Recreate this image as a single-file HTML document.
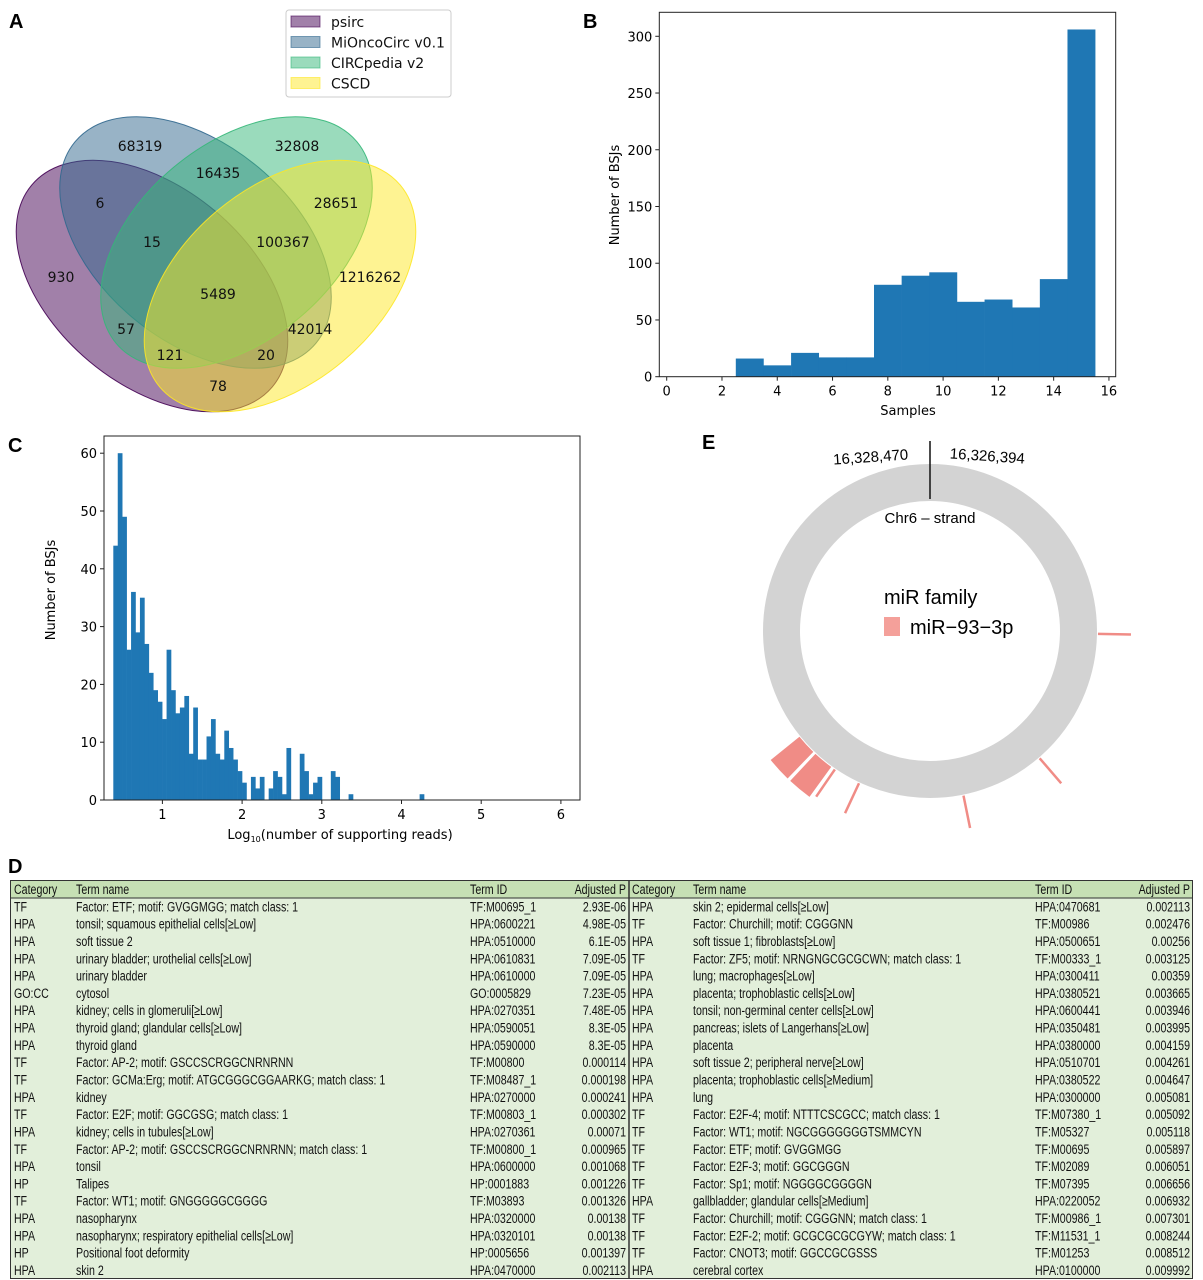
<!DOCTYPE html>
<html><head><meta charset="utf-8"><style>
body{margin:0;background:#fff}
svg{display:block;font-family:"DejaVu Sans","Liberation Sans",sans-serif}
.t{font-family:"Liberation Sans",sans-serif}
</style></head><body>
<svg id="fig" width="1203" height="1280" viewBox="0 0 1203 1280">
<g class="t" font-weight="bold" font-size="20">
<text x="9" y="28">A</text>
<text x="583" y="28">B</text>
<text x="8" y="452">C</text>
<text x="8" y="873">D</text>
<text x="702" y="449">E</text>
</g>
<g id="venn"></g>
<g id="pb"></g>
<g id="pc"></g>
<g id="pe"></g>
<g id="pd"></g>
</svg>
<script>
const NS="http://www.w3.org/2000/svg";
function mk(tag,attrs,parent,txt){const e=document.createElementNS(NS,tag);for(const k in attrs)e.setAttribute(k,attrs[k]);if(txt!==undefined)e.textContent=txt;parent.appendChild(e);return e;}

// ---------- Panel A data ----------
const vennSets=["psirc","MiOncoCirc v0.1","CIRCpedia v2","CSCD"];
const vennColors=["#440154","#31688e","#35b779","#fde725"];
const vennCounts=[68319,32808,16435,6,28651,15,100367,930,1216262,5489,57,42014,121,20,78];
// ---------- Panel B data ----------
const bSamples=[0,1,2,3,4,5,6,7,8,9,10,11,12,13,14,15];
const bCounts=[0,0,0,16,10,21,17,17,81,89,92,66,68,61,86,306];
const bYTicks=[0,50,100,150,200,250,300];
const bXTicks=[0,2,4,6,8,10,12,14,16];
// ---------- Panel C data ----------
const cBinStart=0.384, cBinWidth=0.0557;
const cCounts=[44,60,49,26,36,29,35,27,22,19,17,14,26,19,15,16,18,8,16,7,7,11,14,8,7,12,9,7,5,3,0,4,2,4,0,2,5,4,1,9,0,0,8,5,1,3,4,0,0,5,4,0,0,1,0,0,0,0,0,0,0,0,0,0,0,0,0,0,0,1];
const cYTicks=[0,10,20,30,40,50,60];
const cXTicks=[1,2,3,4,5,6];
// ---------- Panel E data ----------
const eSiteStart=[0.5,48.5,78,114.5,124,126,134];
const eSiteEnd=[1.5,50,79,115.5,125,133,141];
// ---------- Panel D data ----------
const leftRows=[
["TF","Factor: ETF; motif: GVGGMGG; match class: 1","TF:M00695_1","2.93E-06"],
["HPA","tonsil; squamous epithelial cells[≥Low]","HPA:0600221","4.98E-05"],
["HPA","soft tissue 2","HPA:0510000","6.1E-05"],
["HPA","urinary bladder; urothelial cells[≥Low]","HPA:0610831","7.09E-05"],
["HPA","urinary bladder","HPA:0610000","7.09E-05"],
["GO:CC","cytosol","GO:0005829","7.23E-05"],
["HPA","kidney; cells in glomeruli[≥Low]","HPA:0270351","7.48E-05"],
["HPA","thyroid gland; glandular cells[≥Low]","HPA:0590051","8.3E-05"],
["HPA","thyroid gland","HPA:0590000","8.3E-05"],
["TF","Factor: AP-2; motif: GSCCSCRGGCNRNRNN","TF:M00800","0.000114"],
["TF","Factor: GCMa:Erg; motif: ATGCGGGCGGAARKG; match class: 1","TF:M08487_1","0.000198"],
["HPA","kidney","HPA:0270000","0.000241"],
["TF","Factor: E2F; motif: GGCGSG; match class: 1","TF:M00803_1","0.000302"],
["HPA","kidney; cells in tubules[≥Low]","HPA:0270361","0.00071"],
["TF","Factor: AP-2; motif: GSCCSCRGGCNRNRNN; match class: 1","TF:M00800_1","0.000965"],
["HPA","tonsil","HPA:0600000","0.001068"],
["HP","Talipes","HP:0001883","0.001226"],
["TF","Factor: WT1; motif: GNGGGGGCGGGG","TF:M03893","0.001326"],
["HPA","nasopharynx","HPA:0320000","0.00138"],
["HPA","nasopharynx; respiratory epithelial cells[≥Low]","HPA:0320101","0.00138"],
["HP","Positional foot deformity","HP:0005656","0.001397"],
["HPA","skin 2","HPA:0470000","0.002113"]];
const rightRows=[
["HPA","skin 2; epidermal cells[≥Low]","HPA:0470681","0.002113"],
["TF","Factor: Churchill; motif: CGGGNN","TF:M00986","0.002476"],
["HPA","soft tissue 1; fibroblasts[≥Low]","HPA:0500651","0.00256"],
["TF","Factor: ZF5; motif: NRNGNGCGCGCWN; match class: 1","TF:M00333_1","0.003125"],
["HPA","lung; macrophages[≥Low]","HPA:0300411","0.00359"],
["HPA","placenta; trophoblastic cells[≥Low]","HPA:0380521","0.003665"],
["HPA","tonsil; non-germinal center cells[≥Low]","HPA:0600441","0.003946"],
["HPA","pancreas; islets of Langerhans[≥Low]","HPA:0350481","0.003995"],
["HPA","placenta","HPA:0380000","0.004159"],
["HPA","soft tissue 2; peripheral nerve[≥Low]","HPA:0510701","0.004261"],
["HPA","placenta; trophoblastic cells[≥Medium]","HPA:0380522","0.004647"],
["HPA","lung","HPA:0300000","0.005081"],
["TF","Factor: E2F-4; motif: NTTTCSCGCC; match class: 1","TF:M07380_1","0.005092"],
["TF","Factor: WT1; motif: NGCGGGGGGGTSMMCYN","TF:M05327","0.005118"],
["TF","Factor: ETF; motif: GVGGMGG","TF:M00695","0.005897"],
["TF","Factor: E2F-3; motif: GGCGGGN","TF:M02089","0.006051"],
["TF","Factor: Sp1; motif: NGGGGCGGGGN","TF:M07395","0.006656"],
["HPA","gallbladder; glandular cells[≥Medium]","HPA:0220052","0.006932"],
["TF","Factor: Churchill; motif: CGGGNN; match class: 1","TF:M00986_1","0.007301"],
["TF","Factor: E2F-2; motif: GCGCGCGCGYW; match class: 1","TF:M11531_1","0.008244"],
["TF","Factor: CNOT3; motif: GGCCGCGSSS","TF:M01253","0.008512"],
["HPA","cerebral cortex","HPA:0100000","0.009992"]];

// ===== Panel A =====
(function(){
 const g=document.getElementById('venn');
 const ell=[[152,286,40],[195.5,242.5,40],[236.5,242.5,-40],[280,286,-40]];
 ell.forEach((p,i)=>{
  const e=mk('ellipse',{cx:p[0],cy:p[1],rx:157,ry:98,transform:`rotate(${p[2]} ${p[0]} ${p[1]})`,fill:vennColors[i],'fill-opacity':0.5,stroke:vennColors[i],'stroke-opacity':0.9,'stroke-width':1},g);
  
  
 });
 const pos=[[140,146],[297,146],[218,173],[100,203],[336,203],[152,242],[283,242],[61,277],[370,277],[218,294],[126,329],[310,329],[170,355],[266,355],[218,386]];
 vennCounts.forEach((v,i)=>{
  const t=mk('text',{x:pos[i][0],y:pos[i][1]+5,'text-anchor':'middle','font-size':14,fill:'#111'},g,String(v));
  
  
 });
 const lg=mk('g',{},g);
 
 
 mk('rect',{x:286,y:10,width:165,height:87,rx:3,fill:'#fff',stroke:'#ccc'},lg);
 vennSets.forEach((s,i)=>{
  const y=16+i*20.5;
  mk('rect',{x:291,y:y,width:29,height:11,fill:vennColors[i],'fill-opacity':0.5,stroke:vennColors[i],'stroke-opacity':0.6},lg);
  const t=mk('text',{x:331,y:y+11,'font-size':14,fill:'#111'},lg,s);
  
  
 });
})();

// ===== Panel B =====
(function(){
 const g=document.getElementById('pb');
 const L=659.3,R=1115.7,T=12.3,B=376.7;
 const xs=v=>666.7+v*27.64, ys=v=>376.7-v*1.1347;
 bSamples.forEach((s,i)=>{
  if(bCounts[i]<=0)return;
  const r=mk('rect',{x:xs(s-0.5),y:ys(bCounts[i]),width:xs(s+0.5)-xs(s-0.5)+0.3,height:ys(0)-ys(bCounts[i]),fill:'#1f77b4'},g);
  
  
 });
 mk('rect',{x:L,y:T,width:R-L,height:B-T,fill:'none',stroke:'#222','stroke-width':1},g);
 bYTicks.forEach(v=>{mk('line',{x1:L-4,x2:L,y1:ys(v),y2:ys(v),stroke:'#222'},g);
  const t=mk('text',{x:L-7,y:ys(v)+5,'text-anchor':'end','font-size':13},g,String(v));
  });
 bXTicks.forEach(v=>{mk('line',{x1:xs(v),x2:xs(v),y1:B,y2:B+4,stroke:'#222'},g);
  const t=mk('text',{x:xs(v),y:B+19,'text-anchor':'middle','font-size':13},g,String(v));
  });
 const yl=mk('text',{x:0,y:0,transform:'translate(619,195) rotate(-90)','text-anchor':'middle','font-size':13},g,'Number of BSJs');
 
 const xl=mk('text',{x:908,y:415,'text-anchor':'middle','font-size':13},g,'Samples');
 
})();

// ===== Panel C =====
(function(){
 const g=document.getElementById('pc');
 const L=104,R=580,T=436,B=800;
 const xs=v=>82.7+v*79.7, ys=v=>800-v*5.78;
 cCounts.forEach((c,i)=>{
  if(c<=0)return;
  const x0=cBinStart+i*cBinWidth;
  const r=mk('rect',{x:xs(x0),y:ys(c),width:xs(x0+cBinWidth)-xs(x0)+0.3,height:ys(0)-ys(c),fill:'#1f77b4'},g);
  
  
 });
 mk('rect',{x:L,y:T,width:R-L,height:B-T,fill:'none',stroke:'#222','stroke-width':1},g);
 cYTicks.forEach(v=>{mk('line',{x1:L-4,x2:L,y1:ys(v),y2:ys(v),stroke:'#222'},g);
  const t=mk('text',{x:L-7,y:ys(v)+5,'text-anchor':'end','font-size':13},g,String(v));
  });
 cXTicks.forEach(v=>{mk('line',{x1:xs(v),x2:xs(v),y1:B,y2:B+4,stroke:'#222'},g);
  const t=mk('text',{x:xs(v),y:B+19,'text-anchor':'middle','font-size':13},g,String(v));
  });
 const yl=mk('text',{x:0,y:0,transform:'translate(55,590) rotate(-90)','text-anchor':'middle','font-size':13},g,'Number of BSJs');
 
 const xl=mk('text',{x:340,y:839,'text-anchor':'middle','font-size':13},g);
 
 xl.innerHTML='Log<tspan font-size="8" dy="3">10</tspan><tspan dy="-3">(number of supporting reads)</tspan>';
})();

// ===== Panel E =====
(function(){
 const g=document.getElementById('pe');
 const cx=930,cy=631,rO=167,rI=130;
 const ring=mk('circle',{cx:cx,cy:cy,r:(rO+rI)/2,fill:'none',stroke:'#d3d3d3','stroke-width':rO-rI},g);
 
 const pol=(a,r)=>[cx+r*Math.cos(a*Math.PI/180),cy+r*Math.sin(a*Math.PI/180)];
 eSiteStart.forEach((s,i)=>{
  const e=eSiteEnd[i];
  let el;
  if(e-s<1.6){
   const m=(s+e)/2,p1=pol(m,rO+1),p2=pol(m,rO+34);
   el=mk('line',{x1:p1[0],y1:p1[1],x2:p2[0],y2:p2[1],stroke:'#f08c86','stroke-width':2.5},g);
  }else{
   const r1=rO+1,r2=rO+38,a=pol(s,r1),b=pol(e,r1),c=pol(e,r2),d=pol(s,r2);
   el=mk('path',{d:`M${a}A${r1},${r1} 0 0 1 ${b}L${c}A${r2},${r2} 0 0 0 ${d}Z`,fill:'#f08c86'},g);
  }
  
  
 });
 mk('line',{x1:cx,y1:441,x2:cx,y2:499,stroke:'#111','stroke-width':1.5},g);
 const f='font-family:"Liberation Sans",sans-serif';
 const l1=mk('text',{x:871,y:462,'text-anchor':'middle','font-size':15,style:f,transform:'rotate(-4 871 462)'},g,'16,328,470');
 
 const l2=mk('text',{x:987,y:461,'text-anchor':'middle','font-size':15,style:f,transform:'rotate(4 987 461)'},g,'16,326,394');
 
 const l3=mk('text',{x:930,y:523,'text-anchor':'middle','font-size':15,style:f},g,'Chr6 – strand');
 
 const l4=mk('text',{x:884,y:604,'font-size':20,style:f},g,'miR family');
 
 mk('rect',{x:884,y:617,width:16,height:19,fill:'#f4a09a'},g);
 const l5=mk('text',{x:910,y:634,'font-size':20,style:f},g,'miR−93−3p');
 
})();

// ===== Panel D =====
(function(){
 const g=document.getElementById('pd');
 const T=880,H=898,B=1279,rh=(B-H)/22;
 mk('rect',{x:10,y:T,width:1183,height:H-T,fill:'#c6e0b4'},g);
 mk('rect',{x:10,y:H,width:1183,height:B-H,fill:'#e2efda'},g);
 mk('rect',{x:10.5,y:T+.5,width:1182,height:B-T-1,fill:'none',stroke:'#333','stroke-width':1},g);
 mk('line',{x1:10,x2:1193,y1:H,y2:H,stroke:'#333'},g);
 mk('line',{x1:629,x2:629,y1:T,y2:B,stroke:'#333','stroke-width':1.5},g);
 const sc=0.76;
 function txt(x,y,s,anchor){
  const grp=mk('g',{transform:`translate(${x},${y}) scale(${sc},1)`},g);
  const t=mk('text',{x:0,y:0,'font-size':14,'text-anchor':anchor||'start',style:'font-family:"Liberation Sans",sans-serif',fill:'#111'},grp,s);
  return t;
 }
 const cols=[[14,76,470,626],[632,693,1035,1190]];
 cols.forEach(c=>{
  const hd=["Category","Term name","Term ID","Adjusted P"];
  hd.forEach((h,k)=>{const t=txt(c[k],H-4,h,k==3?'end':'start');
   });
 });
 [leftRows,rightRows].forEach((rows,side)=>{
  const c=cols[side];
  rows.forEach((r,i)=>{
   const y=H+(i+1)*rh-4;
   r.forEach((v,k)=>{const t=txt(c[k],y,v,k==3?'end':'start');
    });
  });
 });
})();
</script>
</body></html>
